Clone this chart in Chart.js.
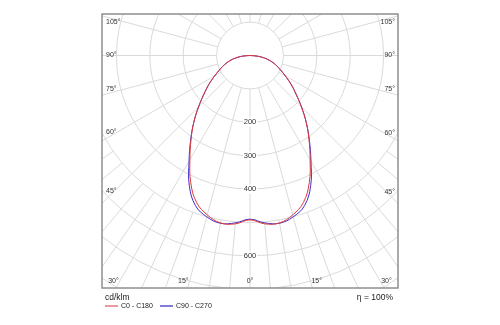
<!DOCTYPE html>
<html><head><meta charset="utf-8">
<script src="https://cdn.jsdelivr.net/npm/chart.js@4.4.1/dist/chart.umd.min.js"></script>
<style>html,body{margin:0;padding:0;background:#fff;}canvas{display:block;}</style>
</head><body>
<canvas id="c" width="500" height="325"></canvas>
<script>
// ---- data (cd/klm), gamma angle from nadir ----
const angles   = [0,5,10,15,20,25,30,35,40,45,50,55,60,65,70,75,80,85,90];
const c0c180   = [492,506,509,494,468,420,360,308,262,218,180,150,122,100,82,64,44,22,0];
const c90c270  = [490,503,510,500,478,430,365,310,262,218,180,150,122,100,82,64,44,22,0];
const ringValues = [100,200,300,400,500,600,700,800];
const ringLabels = [200,300,400,600];
const angleLabels = [0,15,30,45,60,75,90,105];
const seriesNames = ['C0 - C180','C90 - C270'];
const unitLabel = 'cd/klm';
const effLabel = '\u03B7 = 100%';

const PX_PER_UNIT = 0.334;
const FONT = '"Liberation Sans", Arial, sans-serif';

function toPoints(vals){
  const pts = [];
  for (let i = angles.length-1; i >= 0; i--) {           // left half
    const t = -angles[i]*Math.PI/180;
    pts.push({x: vals[i]*Math.sin(t), y: -vals[i]*Math.cos(t)});
  }
  for (let i = 1; i < angles.length; i++) {              // right half
    const t = angles[i]*Math.PI/180;
    pts.push({x: vals[i]*Math.sin(t), y: -vals[i]*Math.cos(t)});
  }
  return pts;
}

const RED = 'rgb(222,56,52)';
const BLUE = 'rgb(62,44,206)';

const polarPlugin = {
  id: 'polarGrid',
  beforeDatasetsDraw(chart){
    const {ctx, chartArea: a, scales: {x, y}} = chart;
    const cx = x.getPixelForValue(0), cy = y.getPixelForValue(0);
    ctx.save();
    ctx.beginPath(); ctx.rect(a.left, a.top, a.right-a.left, a.bottom-a.top); ctx.clip();
    ctx.strokeStyle = '#dadada'; ctx.lineWidth = 1;
    ringValues.forEach(v => {
      const r = x.getPixelForValue(v) - cx;
      ctx.beginPath(); ctx.arc(cx, cy, r, 0, Math.PI*2); ctx.stroke();
    });
    for (let d = 0; d < 360; d += 5) {
      const r0 = (d % 15 === 0) ? 100 : 500;
      const t = d*Math.PI/180;
      const x0 = x.getPixelForValue(r0*Math.sin(t)), y0 = y.getPixelForValue(-r0*Math.cos(t));
      const x1 = x.getPixelForValue(1200*Math.sin(t)), y1 = y.getPixelForValue(-1200*Math.cos(t));
      ctx.beginPath(); ctx.moveTo(x0, y0); ctx.lineTo(x1, y1); ctx.stroke();
    }
    // ring labels
    ctx.font = '7.5px ' + FONT;
    ctx.textAlign = 'center'; ctx.textBaseline = 'middle';
    ringLabels.forEach(v => {
      const py = y.getPixelForValue(-v);
      const s = String(v);
      const w = ctx.measureText(s).width;
      ctx.fillStyle = '#fff'; ctx.fillRect(cx - w/2 - 1, py - 4.5, w + 2, 9);
      ctx.fillStyle = '#333'; ctx.fillText(s, cx, py);
    });
    // angle labels
    ctx.font = '7px ' + FONT;
    const yb = a.bottom - 7;
    const xl = a.left + 4, xr = a.right - 3;
    angleLabels.forEach(d => {
      const t = d*Math.PI/180;
      const s = d + '\u00B0';
      const w = ctx.measureText(s).width;
      const sides = d === 0 ? [0] : [-1, 1];
      sides.forEach(side => {
        let tx, ty, al, bl;
        if (d < 45) {
          const rayX = cx + side*(yb - cy)*Math.tan(t);
          tx = side === 0 ? cx : rayX + side*1;
          ty = yb; bl = 'middle';
          al = side === 0 ? 'center' : (side < 0 ? 'right' : 'left');
        } else {
          const xx = side < 0 ? xl : xr;
          const xc = side < 0 ? xx + w/2 : xx - w/2;
          const dist = Math.abs(cx - xc);
          ty = (d === 90) ? cy : cy + dist/Math.tan(t);
          tx = xx;
          al = side < 0 ? 'left' : 'right';
          bl = d < 90 ? 'bottom' : (d === 90 ? 'middle' : 'top');
        }
        ctx.textAlign = al; ctx.textBaseline = bl;
        ctx.fillStyle = '#333';
        ctx.fillText(s, tx, ty);
      });
    });
    ctx.restore();
  },
  afterDraw(chart){
    const {ctx, chartArea: a} = chart;
    ctx.save();
    ctx.strokeStyle = '#8f8f8f'; ctx.lineWidth = 1.5;
    ctx.strokeRect(a.left, a.top, a.right-a.left, a.bottom-a.top);
    ctx.fillStyle = '#222';
    ctx.font = '8.5px ' + FONT;
    ctx.textBaseline = 'middle'; ctx.textAlign = 'left';
    ctx.fillText(unitLabel, a.left + 3, a.bottom + 10);
    ctx.textAlign = 'right';
    ctx.fillText(effLabel, a.right - 5, a.bottom + 10);
    // legend
    ctx.font = '7px ' + FONT; ctx.textAlign = 'left';
    const ly = a.bottom + 18;
    const items = [[seriesNames[0], 'rgb(230,120,120)', a.left + 3], [seriesNames[1], 'rgb(90,80,200)', a.left + 58]];
    items.forEach(([txt, col, lx]) => {
      ctx.strokeStyle = col; ctx.lineWidth = 1.5;
      ctx.beginPath(); ctx.moveTo(lx, ly); ctx.lineTo(lx + 13, ly); ctx.stroke();
      ctx.fillStyle = '#222'; ctx.fillText(txt, lx + 16, ly);
    });
    ctx.restore();
  }
};

const halfW = 148 / PX_PER_UNIT;
const yTop = 41.5 / PX_PER_UNIT;
const yBottom = -232.5 / PX_PER_UNIT;

new Chart(document.getElementById('c'), {
  type: 'scatter',
  data: {
    datasets: [
      {label: seriesNames[0], data: toPoints(c0c180), showLine: true, borderColor: RED, borderWidth: 1, pointRadius: 0, tension: 0.4, fill: false},
      {label: seriesNames[1], data: toPoints(c90c270), showLine: true, borderColor: BLUE, borderWidth: 1, pointRadius: 0, tension: 0.4, fill: false}
    ]
  },
  options: {
    responsive: false, animation: false, devicePixelRatio: 1,
    layout: {padding: {left: 102, right: 102, top: 14, bottom: 37}},
    scales: {
      x: {type: 'linear', display: false, min: -halfW, max: halfW},
      y: {type: 'linear', display: false, min: yBottom, max: yTop}
    },
    plugins: {legend: {display: false}, tooltip: {enabled: false}}
  },
  plugins: [polarPlugin]
});
</script>
</body></html>
